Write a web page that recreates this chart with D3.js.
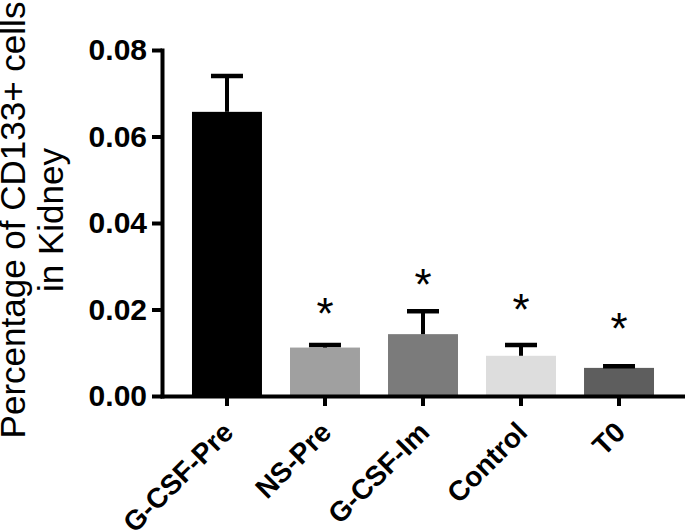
<!DOCTYPE html>
<html>
<head>
<meta charset="utf-8">
<script src="https://cdn.jsdelivr.net/npm/d3@7"></script>
<style>
    body { margin: 0; background: #fff; }
    text { font-family: Arial, "Liberation Sans", sans-serif; fill: #000; }
</style>
</head>
<body>
<svg id="chart" width="685" height="532"></svg>
<script>
// Groups on the x axis
var groups = ['G-CSF-Pre', 'NS-Pre', 'G-CSF-Im', 'Control', 'T0'];
// Bar heights (mean) and upper error (SEM)
var means = [0.0657, 0.0112, 0.0143, 0.0093, 0.0065];
var errors = [0.0083, 0.0006, 0.0053, 0.0025, 0.0004];
// Where the significance stars sit (in data units), null = no star
var starLevels = [null, 0.0213, 0.0280, 0.0224, 0.0180];
var yTicks = [0, 0.02, 0.04, 0.06, 0.08];
var barColors = ['#000000', '#a0a0a0', '#7b7b7b', '#dddddd', '#5e5e5e'];

var svg = d3.select('#chart');

var x = d3.scaleBand()
    .domain(groups)
    .range([162, 684])
    .paddingInner(0.286)
    .paddingOuter(0.306);

var y = d3.scaleLinear()
    .domain([0, 0.08])
    .range([396, 50]);

var rows = groups.map(function (g, i) {
    return { name: g, mean: means[i], err: errors[i], star: starLevels[i], color: barColors[i] };
});

// Bars
svg.append('g')
    .selectAll('rect')
    .data(rows)
    .enter().append('rect')
    .attr('x', function (d) { return x(d.name); })
    .attr('y', function (d) { return y(d.mean); })
    .attr('width', x.bandwidth())
    .attr('height', function (d) { return y(0) - y(d.mean); })
    .attr('fill', function (d) { return d.color; });

// Error bars (upper half only)
var eb = svg.append('g')
    .selectAll('g')
    .data(rows)
    .enter().append('g');

eb.append('line')
    .attr('x1', function (d) { return x(d.name) + x.bandwidth() / 2; })
    .attr('x2', function (d) { return x(d.name) + x.bandwidth() / 2; })
    .attr('y1', function (d) { return y(d.mean); })
    .attr('y2', function (d) { return y(d.mean + d.err); })
    .attr('stroke', '#000')
    .attr('stroke-width', 4);

eb.append('line')
    .attr('x1', function (d) { return x(d.name) + x.bandwidth() / 2 - 16; })
    .attr('x2', function (d) { return x(d.name) + x.bandwidth() / 2 + 16; })
    .attr('y1', function (d) { return y(d.mean + d.err); })
    .attr('y2', function (d) { return y(d.mean + d.err); })
    .attr('stroke', '#000')
    .attr('stroke-width', 4.5);

// Significance stars
svg.append('g')
    .selectAll('text')
    .data(rows.filter(function (d) { return d.star !== null; }))
    .enter().append('text')
    .attr('x', function (d) { return x(d.name) + x.bandwidth() / 2; })
    .attr('y', function (d) { return y(d.star); })
    .attr('dy', '0.58em')
    .attr('text-anchor', 'middle')
    .style('font-size', '44px')
    .text('*');

// Y axis
var yAxis = svg.append('g')
    .attr('transform', 'translate(162,0)')
    .call(d3.axisLeft(y).tickValues(yTicks).tickFormat(d3.format('.2f')).tickSize(10).tickSizeOuter(0).tickPadding(5));

// X axis
var xAxis = svg.append('g')
    .attr('transform', 'translate(0,396)')
    .call(d3.axisBottom(x).tickSize(10).tickSizeOuter(0));

[yAxis, xAxis].forEach(function (ax) {
    ax.select('.domain').attr('stroke', '#000').attr('stroke-width', 4).attr('stroke-linecap', 'square');
    ax.selectAll('.tick line').attr('stroke', '#000').attr('stroke-width', 4);
    ax.selectAll('.tick text')
        .style('font-weight', 'bold')
        .attr('fill', '#000');
});

yAxis.selectAll('.tick text').style('font-size', '30px');

xAxis.selectAll('.tick text')
    .style('font-size', '28px')
    .attr('x', 0)
    .attr('y', 0)
    .attr('dy', 0)
    .attr('text-anchor', 'end')
    .attr('transform', 'translate(8,38) rotate(-45)');

// Y axis title, two lines
var title = svg.append('g')
    .attr('transform', 'translate(25,220) rotate(-90)');

title.append('text')
    .attr('text-anchor', 'middle')
    .style('font-size', '35px')
    .text('Percentage of CD133+ cells');

title.append('text')
    .attr('y', 38)
    .attr('text-anchor', 'middle')
    .style('font-size', '35px')
    .text('in Kidney');
</script>
</body>
</html>
